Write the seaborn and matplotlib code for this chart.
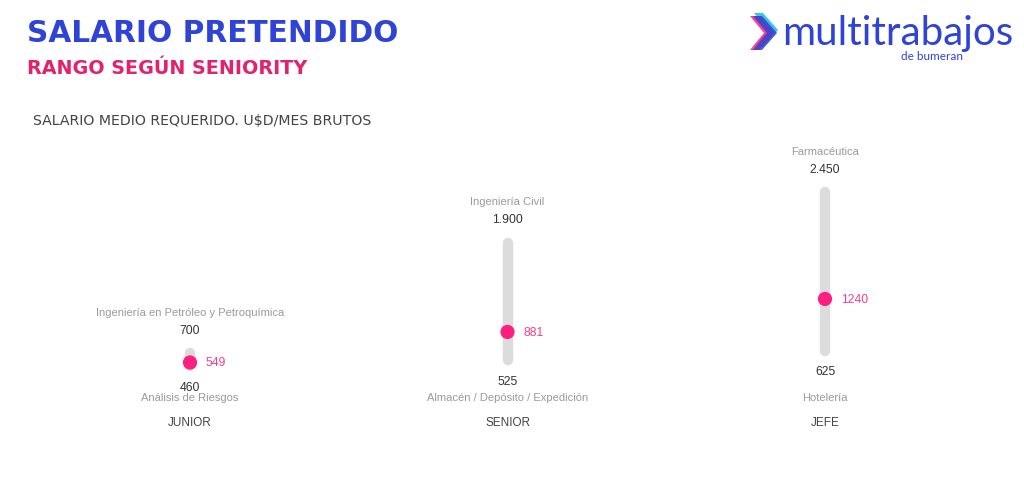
import matplotlib
matplotlib.use("Agg")
import matplotlib.pyplot as plt
import matplotlib.transforms as mtransforms
from matplotlib.patches import Polygon
import seaborn as sns
import pandas as pd

# ── data ─────────────────────────────────────────────────────────────────────
levels = ["JUNIOR", "SENIOR", "JEFE"]
min_salary = [460, 525, 625]
max_salary = [700, 1900, 2450]
mean_salary = [549, 881, 1240]
min_area = ["Análisis de Riesgos", "Almacén / Depósito / Expedición", "Hotelería"]
max_area = ["Ingeniería en Petróleo y Petroquímica", "Ingeniería Civil", "Farmacéutica"]

BLUE = "#2f44d6"
PINK = "#ff1f7e"
PINK_TXT = "#f0408c"
BAR = "#dcdcdc"

sns.set_theme(style="white")
plt.rcParams["font.family"] = ["Liberation Sans", "DejaVu Sans"]

W, H = 1024, 485
fig = plt.figure(figsize=(W / 100, H / 100), dpi=100)
fig.patch.set_facecolor("white")


def fx(px):
    return px / W


def fy(py):
    return 1 - py / H


def dots(v):
    return f"{v:,}".replace(",", ".")


# plot area: category centers at px 190 / 508 / 825, value 0 at py 414
ax = fig.add_axes([fx(31.25), 71 / H, 952.5 / W, 276 / H])

df = pd.DataFrame({"level": levels, "x": range(len(levels)),
                   "lo": min_salary, "hi": max_salary, "mean": mean_salary})

# range bars with rounded ends (shortened by the cap radius)
cap = 50
bars = ax.vlines(df["x"], df["lo"] + cap, df["hi"] - cap, color=BAR, linewidth=7.5)
bars.set_capstyle("round")

sns.scatterplot(data=df, x="x", y="mean", ax=ax, color=PINK, s=105,
                edgecolor="none", legend=False, zorder=3)
ax.set_xlim(-0.5, 2.5)
ax.set_ylim(0, 3000)
ax.axis("off")

pt = 0.72  # points per pixel
trans_fig_y = mtransforms.blended_transform_factory(ax.transData, fig.transFigure)

for i, row in df.iterrows():
    x = row["x"]
    ax.annotate(dots(row["hi"]), (x, row["hi"]), xytext=(0, 19 * pt),
                textcoords="offset points", ha="center", va="center",
                fontsize=8.8, color="#333333")
    ax.annotate(max_area[i], (x, row["hi"]), xytext=(0, 37 * pt),
                textcoords="offset points", ha="center", va="center",
                fontsize=8, color="#9a9a9a")
    ax.annotate(dots(row["lo"]), (x, row["lo"]), xytext=(0, -16 * pt),
                textcoords="offset points", ha="center", va="center",
                fontsize=8.8, color="#333333")
    ax.annotate(str(row["mean"]), (x, row["mean"]), xytext=(16 * pt, 0),
                textcoords="offset points", ha="left", va="center",
                fontsize=8.8, color=PINK_TXT)
    ax.text(x, fy(398), min_area[i], transform=trans_fig_y, ha="center",
            va="center", fontsize=8, color="#9a9a9a")
    ax.text(x, fy(423), row["level"], transform=trans_fig_y, ha="center",
            va="center", fontsize=8.5, color="#444444")

# ── titles ──────────────────────────────────────────────────────────────────
fig.text(fx(27), fy(33), "SALARIO PRETENDIDO", fontsize=21.3, fontweight="bold",
         color=BLUE, ha="left", va="center", family=["DejaVu Sans"])
fig.text(fx(27), fy(69), "RANGO SEGÚN SENIORITY", fontsize=13.8, fontweight="bold",
         color="#e2226c", ha="left", va="center", family=["DejaVu Sans"])
fig.text(fx(33), fy(121), "SALARIO MEDIO REQUERIDO. U$D/MES BRUTOS", fontsize=10.2,
         color="#444444", ha="left", va="center", family=["DejaVu Sans"])

# ── logo ────────────────────────────────────────────────────────────────────
def chevron(x0, y0, color, alpha=1.0):
    pts = [(x0, y0), (x0 + 9, y0), (x0 + 24, y0 + 17), (x0 + 9, y0 + 34),
           (x0, y0 + 34), (x0 + 14, y0 + 17)]
    fig.patches.append(Polygon([(fx(a), fy(b)) for a, b in pts], closed=True,
                               transform=fig.transFigure, facecolor=color,
                               edgecolor="none", alpha=alpha))


chevron(754, 14, "#39c6e0")
chevron(750, 17, "#ff2d7a", 0.9)
chevron(753, 17, BLUE, 0.85)
fig.text(fx(782), fy(33), "multitrabajos", fontsize=29, color=BLUE,
         ha="left", va="center", family=["Lato", "DejaVu Sans"])
fig.text(fx(932), fy(57), "de bumeran", fontsize=8.5, color=BLUE,
         ha="center", va="center", family=["Lato", "DejaVu Sans"])

fig.savefig("out.png", dpi=100, facecolor="white")
